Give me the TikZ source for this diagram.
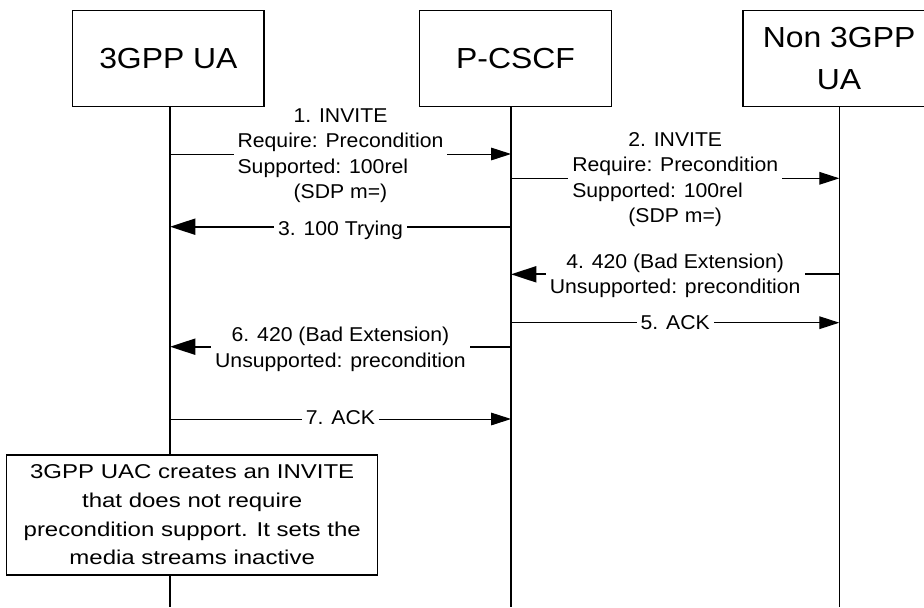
\documentclass[tikz,border=0pt]{standalone}
\usepackage{fontspec}
\setmainfont{Liberation Sans}
\newfontfamily\hdrfont[FakeStretch=1.1]{Liberation Sans}
\newfontfamily\msgfont[FakeStretch=1.06]{Liberation Sans}
\newfontfamily\notefont[FakeStretch=1.2]{Liberation Sans}
\usetikzlibrary{arrows.meta}

\begin{document}
\begin{tikzpicture}[x=0.75pt,y=-0.75pt,
  entity/.style={draw, line width=1.1pt, fill=white, minimum height=72pt,
    inner sep=0pt, align=center, font=\hdrfont\fontsize{21.75}{31.5}\selectfont},
  lifeline/.style={line width=0.9pt},
  msg/.style={line width=0.75pt, -{Triangle[length=15pt,width=9.5pt]}},
  msgbold/.style={line width=1.5pt, -{Triangle[length=19pt,width=12pt]}},
  lbl/.style={fill=white, inner xsep=3pt, inner ysep=1pt, align=center,
    font=\msgfont\fontsize{15}{19.1}\selectfont},
  note/.style={draw, line width=1pt, fill=white, inner sep=0pt, align=center,
    minimum width=278.25pt, minimum height=90pt,
    font=\notefont\fontsize{15}{21.5}\selectfont}
]
% canvas
\fill[white] (0,0) rectangle (924,607);
\useasboundingbox (0,0) rectangle (924,607);

% lifeline feet
\coordinate (u1) at (170,607);
\coordinate (p1) at (511,607);
\coordinate (n1) at (839.3,607);

% participants
\node[entity, minimum width=143.5pt] (ua) at (168.4,58.7) {3GPP UA};
\node[entity, minimum width=144.3pt] (pcscf) at (515.5,58.7) {P-CSCF};
\node[entity, minimum width=144pt] (nonua) at (839.1,58.7) {Non 3GPP\\UA};

% lifelines
\draw[lifeline] (ua.south -| u1) -- (u1);
\draw[lifeline] (pcscf.south -| p1) -- (p1);
\draw[lifeline] (nonua.south -| n1) -- (n1);

% messages
\draw[msg]     (u1 |- 0,154)   -- (p1 |- 0,154);
\draw[msg]     (p1 |- 0,178.3) -- (n1 |- 0,178.3);
\draw[msgbold] (p1 |- 0,226.7) -- (u1 |- 0,226.7);
\draw[msgbold] (n1 |- 0,274.3) -- (p1 |- 0,274.3);
\draw[msg]     (p1 |- 0,322.7) -- (n1 |- 0,322.7);
\draw[msgbold] (p1 |- 0,346.7) -- (u1 |- 0,346.7);
\draw[msg]     (u1 |- 0,419)   -- (p1 |- 0,419);

% message labels
\node[lbl] (l1) at (340.5,155.7) {1. INVITE\\Require: Precondition\\\rlap{Supported: 100rel}\phantom{Require: Precondition}\\(SDP m=)};
\node[lbl] (l2) at (675.2,179.4) {2. INVITE\\Require: Precondition\\\rlap{Supported: 100rel}\phantom{Require: Precondition}\\(SDP m=)};
\node[lbl] (l3) at (340.5,229.9) {3. 100 Trying};
\node[lbl] (l4) at (675.2,275.8) {4. 420 (Bad Extension)\\Unsupported: precondition};
\node[lbl] (l5) at (675.2,322.2) {5. ACK};
\node[lbl] (l6) at (340.5,349.2) {6. 420 (Bad Extension)\\Unsupported: precondition};
\node[lbl] (l7) at (340.5,417.9) {7. ACK};

% local action of the 3GPP UA
\node[note] (act) at (192.2,515) {3GPP UAC creates an INVITE\\that does not require\\precondition support. It sets the\\media streams inactive};
\end{tikzpicture}
\end{document}
